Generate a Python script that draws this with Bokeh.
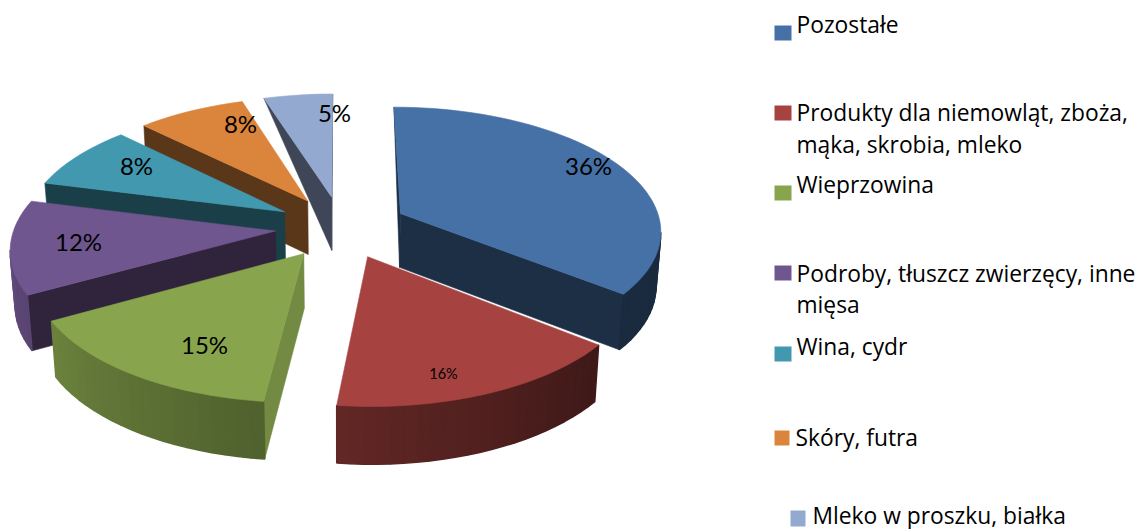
import numpy as np
from bokeh.plotting import figure
from bokeh.models import Range1d
from bokeh.core.properties import value
from bokeh.embed import file_html
from bokeh.resources import INLINE

categories = ["Pozostałe", "Produkty dla niemowląt, zboża,\nmąka, skrobia, mleko", "Wieprzowina",
              "Podroby, tłuszcz zwierzęcy, inne\nmięsa", "Wina, cydr", "Skóry, futra", "Mleko w proszku, białka"]
shares = [35.7, 16.1, 15.1, 12.1, 8.4, 7.7, 4.9]
colors = ["#4671A6", "#A64340", "#88A54E", "#70568F", "#4198AF", "#DB843C", "#94A9D0"]
draw_order = [6, 5, 4, 0, 3, 2, 1]

# layout of the 3-D projection (pixels)
CX, CY, R, TILT, PERSP, EXPLODE, DEPTH = 341, 226.5, 261, 0.471, 0.125, 0.254, 54
label_pos = [(588, 165), (443, 372.5), (204, 344), (78, 241), (136, 165), (240, 123), (334, 112)]
label_size = ["24px", "14.5px", "24px", "24px", "24px", "24px", "24px"]
swatches = [(774, 25, 17, 15), (774, 105, 17, 15), (774, 185, 17, 15), (774, 265, 17, 15),
            (774, 346, 17, 15), (774, 430, 15, 15), (790, 510, 15, 16)]
legend_x = [796, 796, 796, 796, 796, 795, 812]
legend_base = [[24.2], [112.2, 144.2], [184.2], [273.2, 304.2], [345.5], [436.5], [514.5]]
LEGEND_FONT, LEGEND_SIZE = "Open Sans", "22.8px"


def proj(u, v, bottom=False):
    w = 1 / (1 - PERSP * v)
    if bottom:
        return CX + R * u * w * 0.985, CY + R * TILT * v * w + DEPTH * w ** 0.4
    return CX + R * u * w, CY + R * TILT * v * w


def shade(c, f):
    r, g, b = int(c[1:3], 16), int(c[3:5], 16), int(c[5:7], 16)
    return "#%02x%02x%02x" % (int(r * f), int(g * f), int(b * f))


p = figure(width=1138, height=529, output_backend="svg", toolbar_location=None,
           x_range=Range1d(0, 1138), y_range=Range1d(529, 0), min_border=0)
p.axis.visible = False
p.grid.visible = False
p.outline_line_color = None

edges = np.cumsum([0] + shares) / sum(shares) * 2 * np.pi


def poly(xs, ys, color, lw=0.6):
    p.patch(list(xs), list(ys), fill_color=color, line_color=color, line_width=lw)


for i in draw_order:
    t0, t1 = edges[i], edges[i + 1]
    mid = (t0 + t1) / 2
    au, av = EXPLODE * np.sin(mid), -EXPLODE * np.cos(mid)
    th = np.linspace(t0, t1, max(int((t1 - t0) * 24), 8))
    ru, rv = au + np.sin(th), av - np.cos(th)
    base = colors[i]
    # cut walls
    for t, sign in ((t0, -1), (t1, 1)):
        eu, ev = au + np.sin(t), av - np.cos(t)
        ax, ay = proj(au, av)
        bx, by = proj(au, av, True)
        ex, ey = proj(eu, ev)
        fx, fy = proj(eu, ev, True)
        cross = (ex - ax) * (fy - ey) - (ey - ay) * (fx - ex)
        if cross * sign <= 0:
            continue
        f = 0.84 if 150 < np.degrees(t) < 200 else 0.42
        if ev < -1.05:  # far rim: the wall narrows to the corner
            poly([ax, ex, bx], [ay, ey, by], shade(base, f))
        else:
            poly([ax, ex, fx, bx], [ay, ey, fy, by], shade(base, f))
    # outer rim
    for k in range(len(th) - 1):
        x0, y0 = proj(ru[k], rv[k])
        x1, y1 = proj(ru[k + 1], rv[k + 1])
        if x1 >= x0:
            continue
        x2, y2 = proj(ru[k + 1], rv[k + 1], True)
        x3, y3 = proj(ru[k], rv[k], True)
        deg = np.degrees((th[k] + th[k + 1]) / 2)
        f = min(0.9, 0.38 + max(deg - 130, 0) / 140 * 0.52)
        poly([x0, x1, x2, x3], [y0, y1, y2, y3], shade(base, f), 1.5)
    # top face
    tx, ty = proj(ru, rv)
    ax, ay = proj(au, av)
    poly([ax] + list(tx), [ay] + list(ty), base)

for i, s in enumerate(shares):
    lx, ly = label_pos[i]
    p.text([lx], [ly], text=[f"{round(s)}%"], text_font=value("Lato"), text_font_size=label_size[i],
           text_color="#000000", text_align="center", text_baseline="middle")

for i, name in enumerate(categories):
    x, y, w, h = swatches[i]
    p.quad(left=[x], right=[x + w], top=[y], bottom=[y + h], fill_color=colors[i], line_color=None)
    for line, by in zip(name.split("\n"), legend_base[i]):
        p.text([legend_x[i]], [by], text=[line], text_font=value(LEGEND_FONT), text_font_size=LEGEND_SIZE,
               text_color="#000000", text_align="left", text_baseline="alphabetic")

open("out.html", "w").write(file_html(p, INLINE))
